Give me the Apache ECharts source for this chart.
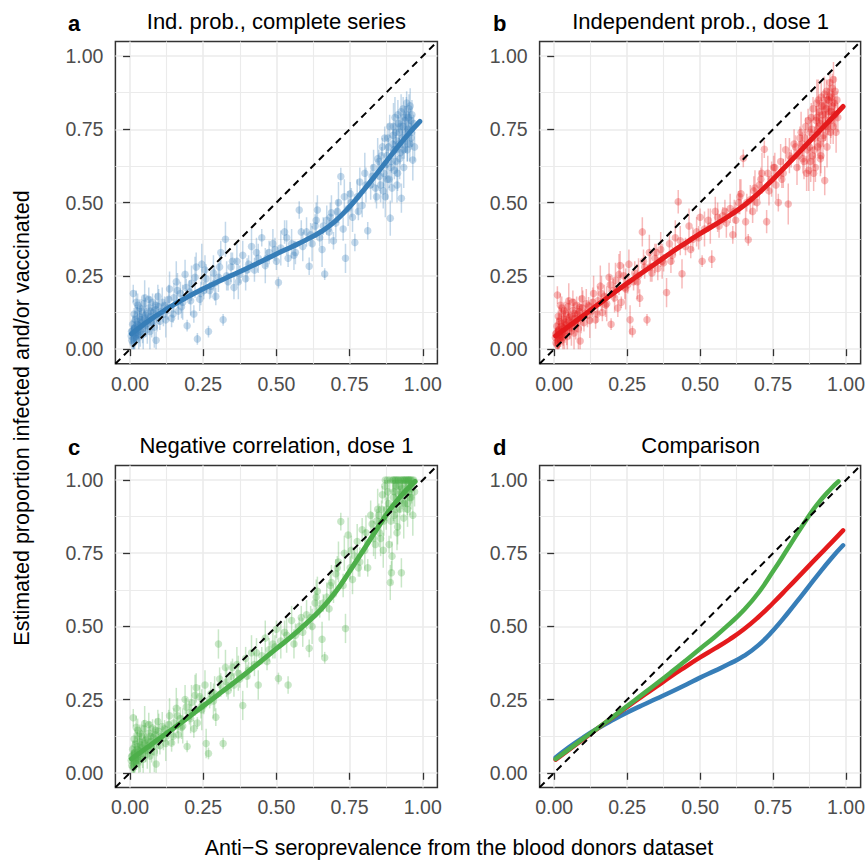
<!DOCTYPE html>
<html><head><meta charset="utf-8">
<script src="https://cdn.jsdelivr.net/npm/echarts@6/dist/echarts.min.js"></script>
<style>html,body{margin:0;padding:0;background:#fff}#chart{width:868px;height:862px}</style>
</head><body><div id="chart"></div>
<script>
// shared x: anti-S seroprevalence from blood donors
const donorX = [
0.004,0.006,0.008,0.010,0.011,0.013,0.015,0.016,0.018,0.020,0.022,0.024,0.026,0.028,0.030,0.032,0.035,0.037,0.040,0.042,0.045,0.048,0.050,0.053,0.056,0.059,0.062,0.065,0.068,0.071,0.074,0.077,0.080,0.083,0.086,0.089,0.092,0.095,0.098,0.102,0.106,0.110,0.114,0.118,0.122,
0.128,0.135,0.142,0.150,0.158,0.165,0.172,0.180,0.188,0.195,0.203,0.210,0.218,0.226,0.230,0.238,0.245,0.252,0.260,0.268,0.276,0.285,0.293,0.302,0.310,0.318,0.326,0.335,0.345,0.355,0.365,0.375,0.385,0.395,0.405,0.415,0.425,0.438,0.450,0.462,0.475,0.488,0.500,0.507,0.515,0.528,0.540,0.552,0.565,0.578,0.590,
0.603,0.612,0.622,0.632,0.640,0.648,0.656,0.665,0.672,0.680,0.688,0.695,0.703,0.712,0.720,0.728,0.736,0.745,0.752,0.760,0.768,0.776,0.785,0.793,0.802,0.812,0.822,0.832,0.842,
0.850,0.856,0.862,0.867,0.872,0.877,0.881,0.885,0.889,0.893,0.897,0.900,0.903,0.906,0.909,0.912,0.915,0.918,0.921,0.924,0.927,0.930,0.933,0.936,0.939,0.942,0.945,0.948,0.951,0.954,0.957,0.960,0.963,0.966,0.969,0.972,
0.005,0.009,0.012,0.014,0.017,0.019,0.021,0.025,0.027,0.031,0.034,0.038,0.043,0.047,0.052,0.058,0.064,0.070,0.079,0.088,
0.132,0.147,0.162,0.176,0.192,0.207,0.222,0.242,0.256,0.272,0.289,0.306,0.330,0.350,0.370,0.400,0.432,0.468,0.495,0.535,0.560,0.585,
0.617,0.636,0.660,0.684,0.708,0.732,0.756,0.780,0.806,0.827,0.838,0.846,
0.852,0.859,0.865,0.870,0.875,0.879,0.883,0.887,0.891,0.895,0.899,0.902,0.905,0.908,0.911,0.914,0.917,0.920,0.923,0.926,0.929,0.932,0.935,0.938,0.941,0.944,0.947,0.950,0.953,0.956,0.959,0.962];

// panel a: independent probabilities, complete series
const yIndepComplete = [
0.045,0.030,0.062,0.020,0.190,0.055,0.072,0.040,0.100,0.058,0.035,0.085,0.150,0.066,0.048,0.110,0.078,0.060,0.130,0.092,0.050,0.105,0.175,0.082,0.120,0.068,0.098,0.140,0.060,0.112,0.090,0.160,0.125,0.075,0.135,0.030,0.110,0.180,0.145,0.095,0.128,0.160,0.118,0.150,0.100,
0.140,0.205,0.105,0.175,0.230,0.130,0.190,0.160,0.255,0.080,0.195,0.225,0.120,0.280,0.035,0.170,0.290,0.200,0.240,0.060,0.215,0.260,0.180,0.245,0.330,0.100,0.375,0.230,0.280,0.210,0.300,0.255,0.320,0.240,0.290,0.350,0.270,0.310,0.380,0.285,0.330,0.360,0.300,0.227,0.345,0.400,0.310,0.360,0.330,0.475,0.350,
0.400,0.283,0.360,0.420,0.475,0.380,0.340,0.256,0.440,0.400,0.465,0.370,0.430,0.500,0.589,0.410,0.310,0.480,0.530,0.450,0.364,0.520,0.570,0.490,0.600,0.404,0.560,0.620,0.520,
0.640,0.560,0.690,0.600,0.520,0.660,0.720,0.580,0.447,0.640,0.700,0.760,0.610,0.680,0.740,0.560,0.800,0.700,0.650,0.760,0.515,0.720,0.820,0.680,0.780,0.740,0.840,0.700,0.790,0.760,0.830,0.720,0.800,0.645,0.770,0.690,
0.060,0.085,0.035,0.120,0.070,0.045,0.160,0.095,0.052,0.080,0.140,0.100,0.070,0.155,0.115,0.088,0.170,0.130,0.095,0.150,
0.170,0.120,0.200,0.145,0.210,0.165,0.245,0.190,0.270,0.200,0.225,0.280,0.250,0.300,0.230,0.270,0.330,0.310,0.340,0.380,0.320,0.400,
0.390,0.440,0.420,0.450,0.470,0.520,0.500,0.470,0.560,0.590,0.550,0.650,
0.590,0.660,0.540,0.720,0.630,0.580,0.690,0.760,0.620,0.550,0.730,0.680,0.790,0.640,0.710,0.600,0.770,0.740,0.670,0.810,0.700,0.760,0.620,0.790,0.720,0.800,0.680,0.750,0.820,0.700,0.780,0.740];

// panel b: independent probabilities, dose 1
const yIndepDose1 = [
0.040,0.022,0.055,0.015,0.185,0.048,0.065,0.032,0.095,0.050,0.028,0.078,0.140,0.060,0.040,0.102,0.070,0.052,0.122,0.084,0.043,0.098,0.165,0.074,0.112,0.062,0.090,0.132,0.055,0.105,0.083,0.150,0.118,0.070,0.128,0.028,0.104,0.172,0.140,0.090,0.122,0.155,0.115,0.148,0.098,
0.130,0.190,0.100,0.165,0.215,0.125,0.180,0.155,0.245,0.085,0.200,0.235,0.140,0.285,0.160,0.250,0.205,0.220,0.100,0.060,0.260,0.230,0.174,0.400,0.280,0.100,0.330,0.260,0.310,0.275,0.340,0.295,0.193,0.360,0.320,0.380,0.503,0.257,0.350,0.420,0.375,0.400,0.450,0.300,0.410,0.440,0.307,0.470,0.420,0.455,0.430,
0.480,0.390,0.440,0.500,0.530,0.651,0.435,0.373,0.510,0.470,0.550,0.500,0.560,0.600,0.682,0.435,0.540,0.580,0.620,0.560,0.500,0.640,0.600,0.680,0.495,0.650,0.700,0.620,0.720,
0.700,0.640,0.760,0.680,0.610,0.740,0.790,0.660,0.600,0.720,0.780,0.840,0.690,0.760,0.810,0.650,0.860,0.780,0.720,0.830,0.575,0.800,0.880,0.760,0.850,0.810,0.910,0.780,0.860,0.830,0.920,0.800,0.880,0.740,0.850,0.790,
0.052,0.078,0.028,0.112,0.062,0.038,0.150,0.088,0.045,0.072,0.132,0.092,0.063,0.145,0.108,0.080,0.160,0.122,0.088,0.142,
0.160,0.120,0.190,0.150,0.220,0.175,0.255,0.210,0.290,0.230,0.250,0.300,0.280,0.330,0.300,0.300,0.370,0.340,0.380,0.420,0.450,0.470,
0.470,0.520,0.500,0.540,0.580,0.600,0.620,0.580,0.660,0.690,0.660,0.740,
0.650,0.720,0.600,0.780,0.690,0.640,0.750,0.820,0.680,0.620,0.790,0.740,0.850,0.700,0.770,0.660,0.830,0.800,0.730,0.870,0.760,0.820,0.690,0.850,0.780,0.860,0.740,0.810,0.890,0.760,0.840,0.800];

// panel c: negative correlation, dose 1
const yNegCorrDose1 = [
0.042,0.025,0.058,0.018,0.188,0.050,0.068,0.035,0.097,0.053,0.030,0.080,0.145,0.062,0.042,0.105,0.072,0.055,0.125,0.086,0.046,0.100,0.168,0.076,0.114,0.064,0.092,0.135,0.057,0.107,0.085,0.153,0.120,0.072,0.130,0.030,0.106,0.175,0.142,0.092,0.124,0.158,0.117,0.150,0.100,
0.135,0.195,0.102,0.170,0.220,0.130,0.185,0.160,0.250,0.090,0.205,0.240,0.150,0.290,0.170,0.260,0.215,0.230,0.100,0.066,0.270,0.245,0.190,0.440,0.300,0.100,0.360,0.280,0.330,0.300,0.370,0.320,0.230,0.390,0.350,0.410,0.370,0.300,0.400,0.460,0.420,0.440,0.490,0.322,0.450,0.480,0.300,0.520,0.470,0.500,0.480,
0.540,0.425,0.500,0.580,0.620,0.560,0.456,0.393,0.600,0.560,0.650,0.610,0.680,0.720,0.858,0.640,0.493,0.812,0.700,0.660,0.740,0.790,0.720,0.830,0.760,0.700,0.880,0.800,0.860,
0.880,0.800,0.950,0.860,1.000,0.900,0.960,0.780,0.650,0.683,1.000,0.940,0.880,1.000,0.980,0.820,1.000,0.950,0.900,1.000,0.683,0.970,1.000,0.920,1.000,0.960,1.000,0.900,1.000,0.980,1.000,0.940,1.000,0.880,1.000,0.960,
0.055,0.080,0.030,0.115,0.065,0.040,0.155,0.090,0.048,0.075,0.135,0.095,0.066,0.150,0.110,0.083,0.165,0.125,0.090,0.145,
0.165,0.125,0.195,0.155,0.225,0.185,0.265,0.225,0.300,0.250,0.270,0.320,0.310,0.360,0.340,0.330,0.410,0.380,0.430,0.470,0.440,0.530,
0.530,0.600,0.580,0.640,0.700,0.750,0.760,0.700,0.820,0.850,0.780,0.900,
0.820,0.900,0.760,0.980,0.880,1.000,0.920,1.000,0.860,0.740,1.000,0.960,1.000,0.900,1.000,0.840,1.000,0.980,0.930,1.000,0.950,1.000,0.870,1.000,0.960,1.000,0.920,1.000,1.000,0.940,1.000,0.970];

// half-width of the credible intervals
const halfCI = [
0.03,0.05,0.02,0.04,0.03,0.06,0.02,0.04,0.05,0.03,0.02,0.06,0.04,0.03,0.05,0.02,0.07,0.03,0.04,0.02,0.05,0.03,0.06,0.04,0.02,0.05,0.03,0.04,0.06,0.02,0.05,0.03,0.04,0.07,0.02,0.03,0.05,0.04,0.06,0.03,0.02,0.05,0.04,0.03,0.06,
0.04,0.06,0.03,0.05,0.07,0.03,0.04,0.06,0.05,0.02,0.04,0.06,0.03,0.05,0.02,0.04,0.07,0.03,0.05,0.02,0.04,0.06,0.03,0.05,0.04,0.02,0.06,0.03,0.05,0.04,0.06,0.03,0.05,0.04,0.03,0.06,0.04,0.05,0.03,0.06,0.04,0.05,0.03,0.02,0.06,0.04,0.03,0.05,0.04,0.03,0.05,
0.05,0.03,0.06,0.04,0.05,0.03,0.06,0.02,0.05,0.04,0.06,0.03,0.05,0.07,0.03,0.04,0.05,0.06,0.04,0.05,0.03,0.06,0.05,0.04,0.07,0.03,0.05,0.06,0.04,
0.04,0.06,0.03,0.05,0.07,0.04,0.05,0.03,0.06,0.04,0.05,0.08,0.03,0.05,0.04,0.06,0.05,0.03,0.07,0.04,0.05,0.06,0.04,0.03,0.05,0.07,0.04,0.06,0.03,0.05,0.06,0.04,0.05,0.07,0.03,0.05,
0.04,0.03,0.05,0.02,0.06,0.03,0.04,0.05,0.02,0.06,0.03,0.04,0.05,0.03,0.06,0.02,0.04,0.05,0.03,0.04,
0.05,0.03,0.06,0.04,0.03,0.05,0.07,0.04,0.05,0.03,0.06,0.04,0.05,0.03,0.06,0.04,0.05,0.03,0.04,0.06,0.05,0.04,
0.04,0.06,0.03,0.05,0.04,0.06,0.05,0.03,0.06,0.04,0.05,0.07,
0.05,0.03,0.06,0.04,0.05,0.07,0.03,0.04,0.06,0.05,0.04,0.03,0.07,0.05,0.04,0.06,0.03,0.05,0.04,0.06,0.05,0.03,0.07,0.04,0.05,0.06,0.04,0.03,0.05,0.06,0.04,0.05];

// smoothed fits
const fitX  = [0.005,0.05,0.1,0.15,0.2,0.25,0.3,0.35,0.4,0.45,0.5,0.55,0.6,0.65,0.7,0.75,0.8,0.85,0.9,0.95,0.99];
const fitA  = [0.052,0.087,0.121,0.152,0.180,0.206,0.230,0.253,0.276,0.300,0.325,0.348,0.372,0.399,0.436,0.486,0.545,0.608,0.672,0.733,0.777];
const fitB  = [0.045,0.078,0.115,0.152,0.189,0.225,0.260,0.294,0.329,0.362,0.394,0.424,0.455,0.490,0.532,0.580,0.631,0.683,0.735,0.786,0.828];
const fitXC = [0.005,0.05,0.1,0.15,0.2,0.25,0.3,0.35,0.4,0.45,0.5,0.55,0.6,0.65,0.7,0.75,0.8,0.85,0.9,0.95,0.974];
const fitC  = [0.047,0.080,0.117,0.153,0.190,0.228,0.266,0.304,0.343,0.383,0.424,0.464,0.508,0.556,0.615,0.688,0.765,0.843,0.915,0.972,0.995];

const tickValues = [0, 0.25, 0.5, 0.75, 1];
const tickLabels = ['0.00', '0.25', '0.50', '0.75', '1.00'];
const minorValues = [0.125, 0.375, 0.625, 0.875];
const panelTags = ['a', 'b', 'c', 'd'];
const panelTitles = ['Ind. prob., complete series', 'Independent prob., dose 1', 'Negative correlation, dose 1', 'Comparison'];
const xTitle = 'Anti\u2212S seroprevalence from the blood donors dataset';
const yTitle = 'Estimated proportion infected and/or vaccinated';

const colors = ['#377EB8', '#E41A1C', '#4DAF4A'];
const FONT = '"Liberation Sans", Arial, Helvetica, sans-serif';

const grids = [
  {left: 115.4, top: 41.4, width: 322, height: 322.4},
  {left: 539.6, top: 41.4, width: 322, height: 322.4},
  {left: 115.4, top: 465.4, width: 322, height: 322},
  {left: 539.6, top: 465.4, width: 322, height: 322}
].map(g => Object.assign(g, {show: true, borderColor: '#333333', borderWidth: 1.5, backgroundColor: '#fff', containLabel: false}));

function fmt(v) {
  for (let i = 0; i < tickValues.length; i++) if (Math.abs(tickValues[i] - v) < 1e-9) return tickLabels[i];
  return v.toFixed(2);
}

const xAxes = [], yAxes = [];
for (let i = 0; i < 4; i++) {
  const major = (isX) => ({
    type: 'value', gridIndex: i, min: -0.05, max: 1.05,
    axisLine: {show: false},
    axisTick: {show: true, length: 7, customValues: tickValues, lineStyle: {color: '#333333', width: 1.3}},
    axisLabel: {customValues: tickValues, formatter: fmt, color: '#4d4d4d', fontSize: 19.5, fontFamily: FONT, margin: isX ? 10 : 12},
    splitLine: {show: true, lineStyle: {color: '#ebebeb', width: 1.6}},
    z: 1
  });
  xAxes.push(major(true));
  yAxes.push(major(false));
}
for (let i = 0; i < 4; i++) {
  const minor = () => ({
    type: 'value', gridIndex: i, min: -0.05, max: 1.05,
    axisLine: {show: false},
    axisTick: {show: false, customValues: minorValues},
    axisLabel: {show: false},
    splitLine: {show: true, lineStyle: {color: '#ebebeb', width: 1.1}},
    z: 0
  });
  xAxes.push(minor());
  yAxes.push(minor());
}

const series = [];
const obs = [yIndepComplete, yIndepDose1, yNegCorrDose1];
const fits = [[fitX, fitA], [fitX, fitB], [fitXC, fitC]];

function fitLine(p, k, width, z) {
  const [fx, fy] = fits[k];
  return {
    type: 'line', xAxisIndex: p, yAxisIndex: p, smooth: 0.5, showSymbol: false, symbol: 'none',
    data: fx.map((x, i) => [x, fy[i]]),
    lineStyle: {color: colors[k], width: width, cap: 'round'}, z: z, silent: true
  };
}

for (let p = 0; p < 3; p++) {
  const ys = obs[p];
  const col = colors[p];
  series.push({
    type: 'custom', xAxisIndex: p, yAxisIndex: p, z: 2, silent: true, clip: true,
    encode: {x: 0, y: [1, 2]},
    data: donorX.map((x, i) => [x, Math.max(0, ys[i] - halfCI[i]), Math.min(1, ys[i] + halfCI[i])]),
    renderItem: function (params, api) {
      const a = api.coord([api.value(0), api.value(1)]);
      const b = api.coord([api.value(0), api.value(2)]);
      return {type: 'line', shape: {x1: a[0], y1: a[1], x2: b[0], y2: b[1]},
        style: {stroke: col, lineWidth: 1.5, opacity: 0.3}};
    }
  });
  series.push({
    type: 'scatter', xAxisIndex: p, yAxisIndex: p, z: 3, silent: true,
    symbolSize: 7.5,
    data: donorX.map((x, i) => [x, ys[i]]),
    itemStyle: {color: col, opacity: 0.3}
  });
  series.push(fitLine(p, p, 5, 4));
}
for (let k = 0; k < 3; k++) series.push(fitLine(3, k, 4.5, 4 + k * 0.1));

for (let p = 0; p < 4; p++) {
  series.push({
    type: 'line', xAxisIndex: p, yAxisIndex: p, showSymbol: false, symbol: 'none', silent: true,
    data: [[-0.05, -0.05], [1.05, 1.05]],
    lineStyle: {color: '#000', width: 2, type: [7, 5]}, z: 6
  });
}

const graphic = [];
const titleCenters = [[276.4, 21], [700.6, 21], [276.4, 445], [700.6, 445]];
const tagPos = [[68, 23], [493, 23], [68, 447], [493, 447]];
for (let p = 0; p < 4; p++) {
  graphic.push({type: 'text', x: titleCenters[p][0], y: titleCenters[p][1], silent: true,
    style: {text: panelTitles[p], fill: '#000', fontSize: 22, fontFamily: FONT, align: 'center', verticalAlign: 'middle'}});
  graphic.push({type: 'text', x: tagPos[p][0], y: tagPos[p][1], silent: true,
    style: {text: panelTags[p], fill: '#000', fontSize: 22, fontWeight: 'bold', fontFamily: FONT, align: 'left', verticalAlign: 'middle'}});
}
graphic.push({type: 'text', x: 459, y: 848, silent: true,
  style: {text: xTitle, fill: '#000', fontSize: 21.5, fontFamily: FONT, align: 'center', verticalAlign: 'middle'}});
graphic.push({type: 'text', x: 22, y: 418, rotation: Math.PI / 2, silent: true,
  style: {text: yTitle, fill: '#000', fontSize: 21.5, fontFamily: FONT, align: 'center', verticalAlign: 'middle'}});

const chart = echarts.init(document.getElementById('chart'), null, {renderer: 'svg', width: 868, height: 862});
chart.setOption({
  animation: false,
  backgroundColor: '#ffffff',
  grid: grids,
  xAxis: xAxes,
  yAxis: yAxes,
  series: series,
  graphic: graphic
});
</script></body></html>
